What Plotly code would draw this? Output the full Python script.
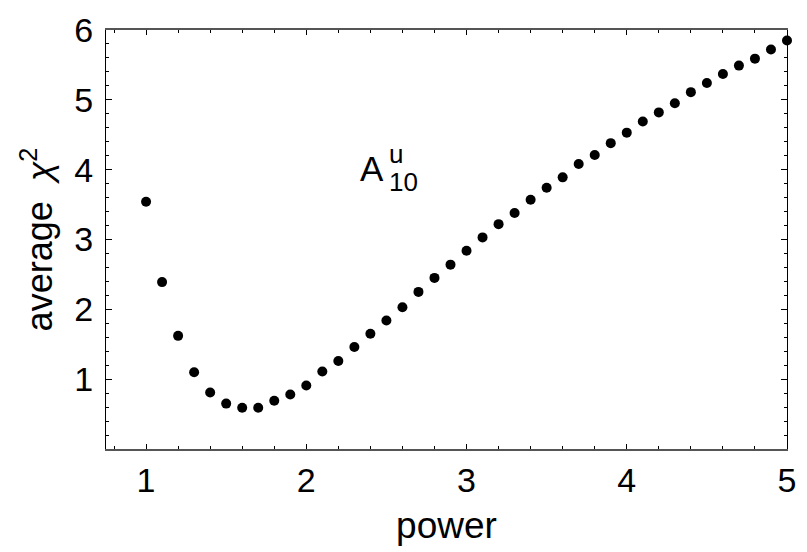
import plotly.graph_objects as go

# exponent values scanned
power = [1.0, 1.1, 1.2, 1.3, 1.4, 1.5, 1.6, 1.7, 1.8, 1.9,
         2.0, 2.1, 2.2, 2.3, 2.4, 2.5, 2.6, 2.7, 2.8, 2.9,
         3.0, 3.1, 3.2, 3.3, 3.4, 3.5, 3.6, 3.7, 3.8, 3.9,
         4.0, 4.1, 4.2, 4.3, 4.4, 4.5, 4.6, 4.7, 4.8, 4.9, 5.0]

# average chi^2 for each exponent
avg_chi2 = [3.54, 2.39, 1.62, 1.10, 0.81, 0.65, 0.59, 0.59, 0.69, 0.78,
            0.91, 1.11, 1.26, 1.46, 1.65, 1.84, 2.03, 2.25, 2.45, 2.64,
            2.84, 3.03, 3.22, 3.38, 3.57, 3.74, 3.89, 4.08, 4.21, 4.38,
            4.53, 4.69, 4.82, 4.95, 5.11, 5.24, 5.37, 5.49, 5.59, 5.72, 5.85]

x_ticks = [1, 2, 3, 4, 5]
y_ticks = [1, 2, 3, 4, 5, 6]

FONT = "Liberation Sans, Arial, sans-serif"

fig = go.Figure()
fig.add_trace(go.Scatter(
    x=power, y=avg_chi2, mode="markers",
    marker=dict(color="black", size=10, line=dict(width=0)),
    cliponaxis=False, showlegend=False,
))

# A^u_10 label: base letter plus stacked super/subscript
fig.add_annotation(x=2.41, y=4.02, xref="x", yref="y", text="A", showarrow=False,
                   font=dict(family=FONT, size=35, color="black"),
                   xanchor="center", yanchor="middle")
fig.add_annotation(x=2.505, y=4.22, xref="x", yref="y", text="u", showarrow=False,
                   font=dict(family=FONT, size=26, color="black"),
                   xanchor="left", yanchor="middle")
fig.add_annotation(x=2.505, y=3.83, xref="x", yref="y", text="10", showarrow=False,
                   font=dict(family=FONT, size=26, color="black"),
                   xanchor="left", yanchor="middle")

fig.update_layout(
    width=807, height=552,
    margin=dict(l=106, r=11, t=23, b=103),
    paper_bgcolor="white", plot_bgcolor="white",
    font=dict(family=FONT, color="black"),
)

fig.update_xaxes(
    range=[0.75, 5.0], tickvals=x_ticks, ticktext=[str(v) for v in x_ticks],
    tickfont=dict(size=34), ticks="inside", ticklen=5, tickwidth=1, tickcolor="black",
    minor=dict(dtick=0.2, tick0=0, ticks="inside", ticklen=3, tickwidth=1, tickcolor="black"),
    showline=True, linecolor="#555555", linewidth=2, mirror="allticks",
    showgrid=False, zeroline=False,
    title=dict(text="power", font=dict(size=37), standoff=14),
)
fig.update_yaxes(
    range=[0, 6], tickvals=y_ticks, ticktext=[str(v) for v in y_ticks],
    tickfont=dict(size=34), ticks="inside", ticklen=6, tickwidth=1, tickcolor="black",
    ticklabelstandoff=5,
    minor=dict(dtick=0.2, tick0=0, ticks="inside", ticklen=3, tickwidth=1, tickcolor="black"),
    showline=True, linecolor="black", linewidth=1, mirror="allticks",
    showgrid=False, zeroline=False,
    title=dict(text="average  <i>χ</i><sup>2</sup>", font=dict(size=36), standoff=10),
)

fig.write_html("out.html")
